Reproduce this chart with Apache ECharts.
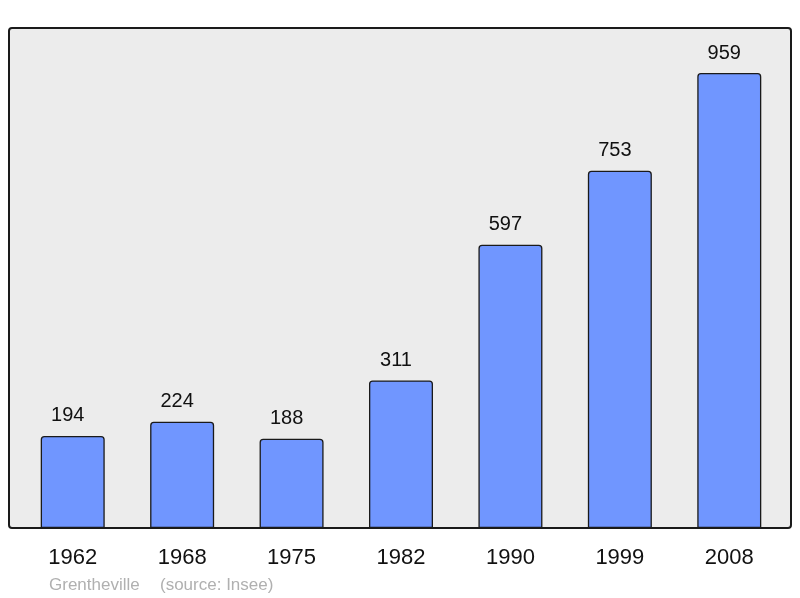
<!DOCTYPE html>
<html>
<head>
<meta charset="utf-8">
<script src="https://cdn.jsdelivr.net/npm/echarts@6/dist/echarts.min.js"></script>
<style>html,body{margin:0;padding:0;background:#fff;}#c{width:800px;height:598px;}</style>
</head>
<body>
<div id="c"></div>
<script>
const categories = ['1962','1968','1975','1982','1990','1999','2008'];
const populations = [194, 224, 188, 311, 597, 753, 959];
const commune = 'Grentheville';
const sourceText = '(source: Insee)';

const chart = echarts.init(document.getElementById('c'));
chart.setOption({
  animation: false,
  backgroundColor: '#ffffff',
  graphic: [
    { type: 'rect', z: -10, shape: { x: 9, y: 28, width: 782, height: 500, r: 3 },
      style: { fill: '#ececec', stroke: '#1a1a1a', lineWidth: 2 } },
    { type: 'text', left: 49, top: 577, style: { text: commune, fill: '#b0b0b0', font: '17px "Liberation Sans", Arial, sans-serif' } },
    { type: 'text', left: 160, top: 577, style: { text: sourceText, fill: '#b0b0b0', font: '17px "Liberation Sans", Arial, sans-serif' } }
  ],
  grid: { left: 18, right: 16, top: 28, bottom: 70, containLabel: false },
  xAxis: {
    type: 'category', data: categories,
    axisLine: { show: false }, axisTick: { show: false },
    axisLabel: { color: '#111', fontSize: 22, fontFamily: '"Liberation Sans", Arial, sans-serif', margin: 19 }
  },
  yAxis: { type: 'value', min: 0, max: 1054, show: false, splitLine: { show: false } },
  series: [{
    type: 'bar', data: populations, barWidth: 64,
    itemStyle: { color: '#7096ff', borderColor: '#1a1a1a', borderWidth: 1.3, borderRadius: [3,3,0,0] },
    label: { show: true, position: 'top', distance: 10, offset: [-5, 0], color: '#111', fontSize: 20,
             fontFamily: '"Liberation Sans", Arial, sans-serif' }
  }]
});
</script>
</body>
</html>
